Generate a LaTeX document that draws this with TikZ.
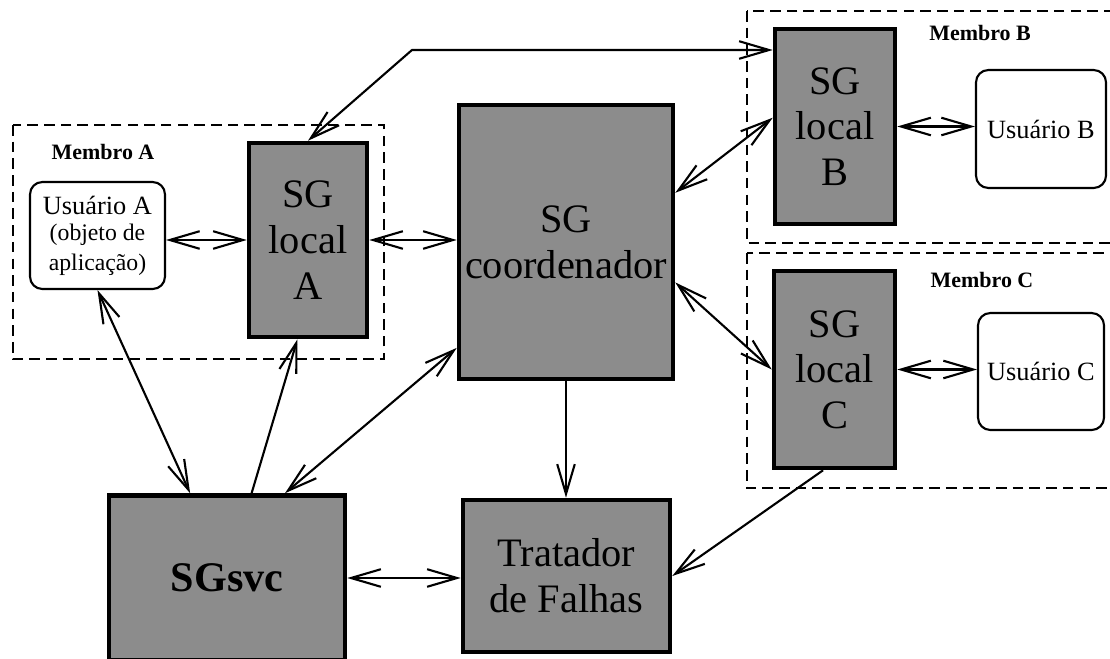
\documentclass[tikz,border=0pt]{standalone}
\usepackage{fontspec}
\setmainfont{Liberation Serif}
\usetikzlibrary{arrows.meta}

\begin{document}
\begin{tikzpicture}[x=0.02cm, y=-0.02cm,
    sgbox/.style={draw, line width=2.6pt, fill=black!45, align=center, inner sep=0pt,
        font=\fontsize{23}{26}\selectfont},
    userbox/.style={draw, line width=1.2pt, rounded corners=7pt, fill=white, align=center,
        inner sep=0pt, font=\fontsize{15}{17}\selectfont},
    member/.style={line width=1.2pt, dash pattern=on 6pt off 3.5pt},
    tag/.style={font=\fontsize{12.5}{14}\selectfont\bfseries},
    link/.style={line width=1.2pt, -{Straight Barb[length=17pt,width=10pt]}},
    dlink/.style={line width=1.2pt, {Straight Barb[length=17pt,width=10pt]}-{Straight Barb[length=17pt,width=10pt]}}]
        \useasboundingbox (0,0) rectangle (1110,659);

        % Member areas
        \draw[member] (13,125) rectangle (384,359);
        \draw[member] (747,11) rectangle (1116,243);
        \draw[member] (747,253) rectangle (1116,488);
        \node[tag] (tagA) at (103,152) {Membro A};
        \node[tag] (tagB) at (980,33) {Membro B};
        \node[tag] (tagC) at (982,280) {Membro C};

        % Users
        \node[userbox, minimum width=2.7cm, minimum height=2.14cm] (usrA) at (97.5,235.5)
            {Usuário A\\[-2pt]{\fontsize{13.5}{15.5}\selectfont (objeto de}\\{\fontsize{13.5}{15.5}\selectfont aplicação)}};
        \node[userbox, minimum width=2.6cm, minimum height=2.36cm] (usrB) at (1041,129) {Usuário B};
        \node[userbox, minimum width=2.52cm, minimum height=2.34cm] (usrC) at (1041,371.5) {Usuário C};

        % Group services
        \node[sgbox, minimum width=2.36cm, minimum height=3.88cm] (sgA) at (308,240) {SG\\local\\A};
        \node[sgbox, minimum width=2.4cm, minimum height=3.9cm] (sgB) at (835,126.5) {SG\\local\\B};
        \node[sgbox, minimum width=2.42cm, minimum height=3.94cm] (sgC) at (834.5,369.5) {SG\\local\\C};
        \node[sgbox, minimum width=4.28cm, minimum height=5.48cm] (coord) at (566,242) {SG\\coordenador};
        \node[sgbox, minimum width=4.72cm, minimum height=3.3cm, font=\fontsize{24}{28}\selectfont\bfseries] (svc) at (227,578) {SGsvc};
        \node[sgbox, minimum width=4.14cm, minimum height=3.04cm] (trat) at (566.5,576) {Tratador\\de Falhas};

        % Links inside the members
        \draw[dlink] (sgA.west) -- (sgA.west -| usrA.east);
        \draw[dlink] (sgB.east) -- (sgB.east -| usrB.west);
        \draw[dlink] (sgC.east) -- (sgC.east -| usrC.west);

        % Links to the coordinator
        \draw[dlink] (sgA.east) -- (sgA.east -| coord.west);
        \draw[dlink] ([yshift=28pt]coord.east) -- ([yshift=5pt]sgB.west);
        \draw[dlink] ([yshift=-23pt]coord.east) -- (sgC.west);
        \coordinate (bend) at (412,50);
        \draw[dlink] (sgA.north) -- (bend) -- (bend -| sgB.west);

        % Links to SGsvc and the failure handler
        \draw[dlink] (usrA.south) -- ([xshift=-21pt]svc.north);
        \draw[link] ([xshift=14pt]svc.north) -- ([xshift=-6pt]sgA.south);
        \draw[dlink] ([xshift=33pt]svc.north) -- ([yshift=19pt]coord.south west);
        \draw[link] (coord.south) -- (coord.south |- trat.north);
        \draw[dlink] (svc.east) -- (svc.east -| trat.west);
        \draw[link] ([xshift=-6.5pt]sgC.south) -- (trat.east);
    \end{tikzpicture}
\end{document}
